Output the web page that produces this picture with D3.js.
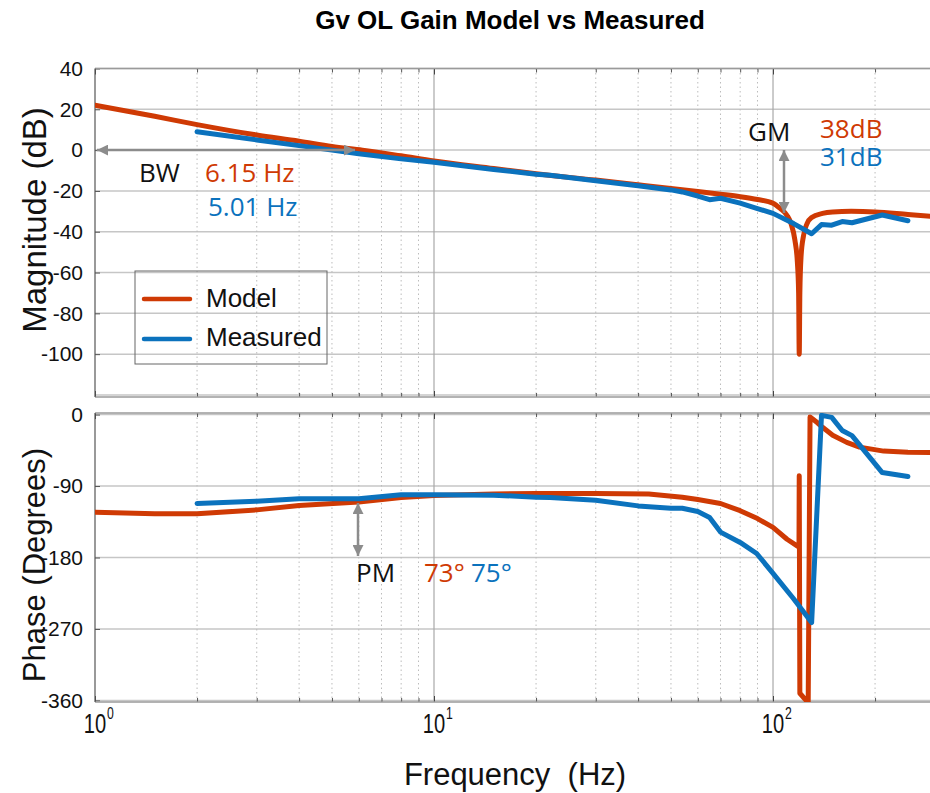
<!DOCTYPE html>
<html>
<head>
<meta charset="utf-8">
<script src="https://cdnjs.cloudflare.com/ajax/libs/d3/7.8.5/d3.min.js"></script>
<style>
  body { margin: 0; background: #fff; }
  svg { display: block; font-family: "Liberation Sans", Arial, sans-serif; }
  .note { font-family: "Open Sans", "Noto Sans", sans-serif; font-size: 26px; }
</style>
</head>
<body>
<svg id="chart" width="930" height="793"></svg>
<script>
var orange = "#cf3a04", blue = "#0b72bd", gray = "#8c8c8c";

// model magnitude (dB)
var modelMagFreq = [1, 1.5, 2, 3, 4, 5, 6.15, 8, 10, 15, 20, 30, 40, 50, 60, 70, 80, 90, 100, 105, 110, 113, 116, 118, 119, 119.5, 120, 121, 123, 126, 130, 140, 150, 170, 200, 250, 320];
var modelMag = [22, 16.6, 12.5, 7.4, 4.4, 1.8, 0, -2.8, -5.3, -9, -11.6, -14.7, -17, -18.8, -20.3, -21.6, -22.8, -24.2, -26, -28.6, -32, -36, -44, -55, -70, -100, -70, -52, -42, -36, -33, -31, -30.3, -30, -30.3, -31.6, -33];

// model phase (deg)
var modelPhaseFreq = [1, 1.5, 2, 3, 4, 6, 8, 10, 15, 20, 30, 43, 54, 60, 70, 80, 90, 100, 110, 119.3, 119.5, 120, 127, 128.6, 135, 140, 150, 165, 180, 212, 250, 320];
var modelPhase = [-123, -125, -125, -120, -114.5, -110, -104.5, -102, -100, -99.5, -99.5, -100, -104, -107, -112, -121, -131, -142, -157, -167, -77, -351, -363, -3, -10, -16, -26, -35, -41, -46, -47.5, -48];

// measured
var measFreq = [2, 3, 4, 5, 6, 8, 10, 15, 20, 22, 30, 40, 50, 54, 60, 65, 70, 80, 89.5, 100, 115, 130, 139, 149, 160, 171, 210, 250];
var measMag = [9, 5, 2.2, 0, -1.8, -4.3, -6, -9.5, -11.8, -12.3, -15, -17.5, -19.5, -20.5, -22.5, -24.3, -23.6, -26, -28.5, -31, -36, -41, -36.5, -36.8, -35, -35.6, -31.8, -34.6];
var measPhase = [-112, -109, -106, -106, -106, -101, -101, -101.5, -104, -104.5, -108, -115, -118, -118, -122, -129.5, -148, -161, -175, -200, -232, -262, -1, -3.5, -20, -26.5, -73, -78];

var magTicks = [-100, -80, -60, -40, -20, 0, 20, 40];
var magGrid = [-120, -100, -80, -60, -40, -20, 0, 20, 40];
var phaseTicks = [-360, -270, -180, -90, 0];
var decades = [1, 10, 100];
var decadeLabels = ["0", "1", "2"];

var svg = d3.select("#chart");
var defs = svg.append("defs");

var x = d3.scaleLog().domain([1, 316.2]).range([95, 942.5]);
var yMag = d3.scaleLinear().domain([-121, 40]).range([397, 68.5]);
var yPh = d3.scaleLinear().domain([-362, 2]).range([702, 413]);

var minorTicks = [];
decades.forEach(function(d){
  for (var k = 2; k < 10; k++) if (d*k < 316) minorTicks.push(d*k);
});

defs.append("marker")
  .attr("id", "head")
  .attr("viewBox", "0 0 10 10")
  .attr("refX", 10).attr("refY", 5)
  .attr("markerUnits", "userSpaceOnUse")
  .attr("markerWidth", 15).attr("markerHeight", 11)
  .attr("orient", "auto-start-reverse")
  .append("path")
  .attr("d", "M0,0L10,5L0,10Z")
  .attr("fill", gray);

function panel(y, gridVals, tickVals, y0, y1, id){
  var g = svg.append("g");

  defs.append("clipPath").attr("id", id)
    .append("rect")
    .attr("x", 95).attr("y", y0)
    .attr("width", 850).attr("height", y1 - y0);

  g.selectAll(".hgrid").data(gridVals).enter().append("line")
    .attr("x1", 95).attr("x2", 942)
    .attr("y1", function(d){ return y(d) }).attr("y2", function(d){ return y(d) })
    .attr("stroke", "#c6c6c6").attr("stroke-width", 1.5);

  g.selectAll(".mgrid").data(minorTicks).enter().append("line")
    .attr("x1", function(d){ return x(d) }).attr("x2", function(d){ return x(d) })
    .attr("y1", y0).attr("y2", y1)
    .attr("stroke", "#bcbcbc").attr("stroke-width", 1)
    .attr("stroke-dasharray", "1.5,3");

  g.selectAll(".dgrid").data(decades.slice(1)).enter().append("line")
    .attr("x1", function(d){ return x(d) }).attr("x2", function(d){ return x(d) })
    .attr("y1", y0).attr("y2", y1)
    .attr("stroke", "#a8a8a8").attr("stroke-width", 1.2);

  var yAxis = g.append("g")
    .attr("transform", "translate(95,0)")
    .call(d3.axisLeft(y).tickValues(tickVals).tickSize(-5).tickPadding(12)
      .tickFormat(function(d){ return String(d) }));
  yAxis.select(".domain").remove();
  yAxis.selectAll("line").attr("stroke", "#555");
  yAxis.selectAll("text").attr("font-size", 21).attr("fill", "#111")
    .attr("font-family", "'Liberation Sans', Arial, sans-serif");

  [[d3.axisBottom, y0], [d3.axisTop, y1]].forEach(function(a){
    var minor = g.append("g").attr("transform", "translate(0," + a[1] + ")")
      .call(a[0](x).tickValues(minorTicks).tickSize(4).tickFormat(""));
    var major = g.append("g").attr("transform", "translate(0," + a[1] + ")")
      .call(a[0](x).tickValues(decades).tickSize(6).tickFormat(""));
    minor.select(".domain").remove();
    major.select(".domain").remove();
    minor.selectAll("line").attr("stroke", "#555");
    major.selectAll("line").attr("stroke", "#444");
  });

  g.append("line").attr("x1", 95).attr("x2", 942).attr("y1", y0).attr("y2", y0)
    .attr("stroke", "#9a9a9a").attr("stroke-width", 1.5);
  g.append("line").attr("x1", 95).attr("x2", 942).attr("y1", y1).attr("y2", y1)
    .attr("stroke", "#9a9a9a").attr("stroke-width", 1.5);
  g.append("line").attr("x1", 95).attr("x2", 95).attr("y1", y0).attr("y2", y1)
    .attr("stroke", "#555").attr("stroke-width", 1.2);

  return g;
}

function curve(g, y, freqs, vals, color, id, smooth){
  var line = d3.line()
    .curve(smooth ? d3.curveMonotoneX : d3.curveLinear)
    .x(function(d){ return x(d[0]) })
    .y(function(d){ return y(d[1]) });
  g.append("path")
    .datum(d3.zip(freqs, vals))
    .attr("clip-path", "url(#" + id + ")")
    .attr("d", line)
    .attr("fill", "none")
    .attr("stroke", color)
    .attr("stroke-width", 5)
    .attr("stroke-linejoin", "round")
    .attr("stroke-linecap", "round");
}

var magPanel = panel(yMag, magGrid, magTicks, 68.5, 397, "clipMag");
var phPanel = panel(yPh, phaseTicks, phaseTicks, 413, 702, "clipPh");

curve(magPanel, yMag, modelMagFreq, modelMag, orange, "clipMag", true);
curve(magPanel, yMag, measFreq, measMag, blue, "clipMag", false);
curve(phPanel, yPh, modelPhaseFreq, modelPhase, orange, "clipPh", false);
curve(phPanel, yPh, measFreq, measPhase, blue, "clipPh", false);

// x tick labels 10^n
var xl = svg.selectAll(".xlab").data(decades).enter().append("g")
  .attr("transform", function(d){ return "translate(" + x(d) + ",733)" });
xl.append("text")
  .attr("transform", "scale(0.72,1)")
  .attr("text-anchor", "middle")
  .attr("font-size", 28).attr("fill", "#111")
  .text("10");
xl.append("text")
  .attr("transform", "translate(12,-14) scale(0.72,1)")
  .attr("font-size", 17).attr("fill", "#111")
  .text(function(d, i){ return decadeLabels[i] });

// annotations
function arrow(x1, y1, x2, y2){
  svg.append("line")
    .attr("x1", x1).attr("y1", y1).attr("x2", x2).attr("y2", y2)
    .attr("stroke", gray).attr("stroke-width", 2.5)
    .attr("marker-start", "url(#head)")
    .attr("marker-end", "url(#head)");
}
arrow(355, yMag(0), 97, yMag(0));
arrow(784, 150, 784, 213);
arrow(358, 503, 358, 556);

function note(tx, ty, s, color){
  return svg.append("text").attr("class", "note")
    .attr("x", tx).attr("y", ty).attr("fill", color).text(s);
}
note(139, 182, "BW", "#111");
note(205, 182, "6.15 Hz", orange);
note(208, 216, "5.01 Hz", blue);
note(748, 141, "GM", "#111");
var gm = note(820, 138, "", orange);
gm.append("tspan").attr("x", 820).text("38dB");
gm.append("tspan").attr("x", 820).attr("dy", 28).attr("fill", blue).text("31dB");
note(356, 582, "PM", "#111");
note(424, 582, "73°", orange);
note(471, 582, "75°", blue);

// legend
var legend = svg.append("g");
legend.append("rect")
  .attr("x", 135).attr("y", 271).attr("width", 192).attr("height", 93)
  .attr("fill", "none").attr("stroke", "#666").attr("stroke-width", 1);
[["Model", orange, 299, 307], ["Measured", blue, 339, 346]].forEach(function(d){
  legend.append("line")
    .attr("x1", 144).attr("x2", 190).attr("y1", d[2]).attr("y2", d[2])
    .attr("stroke", d[1]).attr("stroke-width", 4.5).attr("stroke-linecap", "round");
  legend.append("text")
    .attr("x", 206).attr("y", d[3])
    .attr("font-size", 26).attr("fill", "#111")
    .text(d[0]);
});

// titles
svg.append("text")
  .attr("x", 510).attr("y", 29)
  .attr("text-anchor", "middle")
  .attr("font-size", 26).attr("font-weight", "bold")
  .text("Gv OL Gain Model vs Measured");

svg.append("text")
  .attr("x", 515).attr("y", 785)
  .attr("text-anchor", "middle")
  .attr("font-size", 31).attr("fill", "#111")
  .text("Frequency\u00a0\u00a0(Hz)");

svg.append("text")
  .attr("transform", "translate(46,220) rotate(-90)")
  .attr("text-anchor", "middle")
  .attr("font-size", 33).attr("fill", "#111")
  .text("Magnitude (dB)");

svg.append("text")
  .attr("transform", "translate(45,565) rotate(-90)")
  .attr("text-anchor", "middle")
  .attr("font-size", 31).attr("fill", "#111")
  .text("Phase (Degrees)");
</script>
</body>
</html>
